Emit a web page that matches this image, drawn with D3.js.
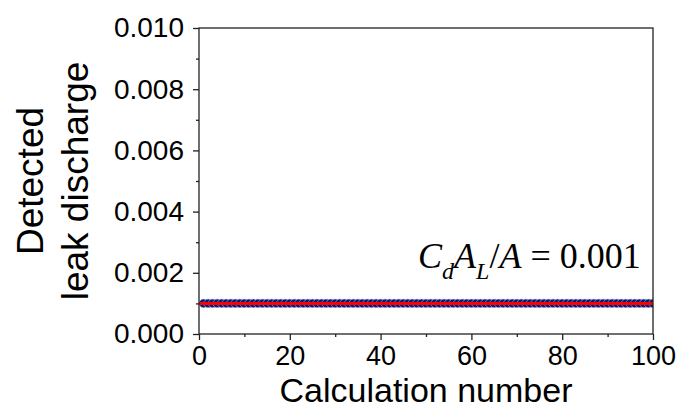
<!DOCTYPE html>
<html>
<head>
<meta charset="utf-8">
<script src="https://cdn.jsdelivr.net/npm/d3@7"></script>
<style>
  html, body { margin: 0; padding: 0; background: #fff; }
  svg { display: block; }
  .axis text { font-family: "Liberation Sans", Arial, sans-serif; fill: #000; }
  .axis path, .axis line { stroke: #222; stroke-width: 1.3; }
</style>
</head>
<body>
<svg id="chart" width="683" height="409"></svg>
<script>
// Calculation numbers 1..100
const calcNumbers = [
  1,2,3,4,5,6,7,8,9,10,11,12,13,14,15,16,17,18,19,20,
  21,22,23,24,25,26,27,28,29,30,31,32,33,34,35,36,37,38,39,40,
  41,42,43,44,45,46,47,48,49,50,51,52,53,54,55,56,57,58,59,60,
  61,62,63,64,65,66,67,68,69,70,71,72,73,74,75,76,77,78,79,80,
  81,82,83,84,85,86,87,88,89,90,91,92,93,94,95,96,97,98,99,100
];
// Detected leak discharge for each calculation
const detectedDischarge = [
  0.001,0.001,0.001,0.001,0.001,0.001,0.001,0.001,0.001,0.001,
  0.001,0.001,0.001,0.001,0.001,0.001,0.001,0.001,0.001,0.001,
  0.001,0.001,0.001,0.001,0.001,0.001,0.001,0.001,0.001,0.001,
  0.001,0.001,0.001,0.001,0.001,0.001,0.001,0.001,0.001,0.001,
  0.001,0.001,0.001,0.001,0.001,0.001,0.001,0.001,0.001,0.001,
  0.001,0.001,0.001,0.001,0.001,0.001,0.001,0.001,0.001,0.001,
  0.001,0.001,0.001,0.001,0.001,0.001,0.001,0.001,0.001,0.001,
  0.001,0.001,0.001,0.001,0.001,0.001,0.001,0.001,0.001,0.001,
  0.001,0.001,0.001,0.001,0.001,0.001,0.001,0.001,0.001,0.001,
  0.001,0.001,0.001,0.001,0.001,0.001,0.001,0.001,0.001,0.001
];
// Actual leak discharge (reference line)
const trueDischarge = 0.001;

const xTicks = [0, 20, 40, 60, 80, 100];
const xMinorTicks = [10, 30, 50, 70, 90];
const yTicks = [0, 0.002, 0.004, 0.006, 0.008, 0.010];
const yMinorTicks = [0.001, 0.003, 0.005, 0.007, 0.009];

const svg = d3.select("#chart");
const m = { left: 199, right: 653, top: 28, bottom: 334 };

const x = d3.scaleLinear().domain([0, 100]).range([m.left, m.right]);
const y = d3.scaleLinear().domain([0, 0.010]).range([m.bottom, m.top]);

svg.append("defs").append("clipPath").attr("id", "plotClip")
  .append("rect")
  .attr("x", m.left).attr("y", m.top)
  .attr("width", m.right - m.left).attr("height", m.bottom - m.top);

// data layer
const plot = svg.append("g").attr("clip-path", "url(#plotClip)");

plot.selectAll("circle.pt")
  .data(calcNumbers.map((c, i) => ({ c, v: detectedDischarge[i] })))
  .join("circle")
  .attr("class", "pt")
  .attr("cx", d => x(d.c))
  .attr("cy", d => y(d.v))
  .attr("r", 4.3)
  .attr("fill", "#0a1670")
  .attr("stroke", "#b9c0e0")
  .attr("stroke-width", 0.6);

plot.append("line")
  .attr("x1", x(0)).attr("x2", x(100))
  .attr("y1", y(trueDischarge)).attr("y2", y(trueDischarge))
  .attr("stroke", "#ff0000")
  .attr("stroke-width", 3);

// frame
svg.append("rect")
  .attr("x", m.left).attr("y", m.top)
  .attr("width", m.right - m.left).attr("height", m.bottom - m.top)
  .attr("fill", "none").attr("stroke", "#222").attr("stroke-width", 1.3);

// minor ticks
svg.append("g").attr("class", "axis")
  .attr("transform", `translate(0,${m.bottom})`)
  .call(d3.axisBottom(x).tickValues(xMinorTicks).tickSize(3).tickFormat(""))
  .call(g => g.select(".domain").remove());
svg.append("g").attr("class", "axis")
  .attr("transform", `translate(${m.left},0)`)
  .call(d3.axisLeft(y).tickValues(yMinorTicks).tickSize(3).tickFormat(""))
  .call(g => g.select(".domain").remove());

// major axes
const xAxis = svg.append("g").attr("class", "axis")
  .attr("transform", `translate(0,${m.bottom})`)
  .call(d3.axisBottom(x).tickValues(xTicks).tickSize(6).tickPadding(6).tickFormat(d3.format("d")));
xAxis.select(".domain").remove();
xAxis.selectAll("text").attr("font-size", 27);

const yAxis = svg.append("g").attr("class", "axis")
  .attr("transform", `translate(${m.left},0)`)
  .call(d3.axisLeft(y).tickValues(yTicks).tickSize(6).tickPadding(9).tickFormat(d3.format(".3f")));
yAxis.select(".domain").remove();
yAxis.selectAll("text").attr("font-size", 28);

// axis titles
svg.append("text")
  .attr("x", (m.left + m.right) / 2).attr("y", 401.5)
  .attr("text-anchor", "middle")
  .attr("font-family", "Liberation Sans, Arial, sans-serif")
  .attr("font-size", 34)
  .text("Calculation number");

svg.append("text")
  .attr("transform", `translate(43,${(m.top + m.bottom) / 2}) rotate(-90)`)
  .attr("text-anchor", "middle")
  .attr("font-family", "Liberation Sans, Arial, sans-serif")
  .attr("font-size", 37)
  .text("Detected");
svg.append("text")
  .attr("transform", `translate(88,${(m.top + m.bottom) / 2}) rotate(-90)`)
  .attr("text-anchor", "middle")
  .attr("font-family", "Liberation Sans, Arial, sans-serif")
  .attr("font-size", 37)
  .text("leak discharge");

// annotation: C_d A_L / A = 0.001
const ann = svg.append("text")
  .attr("x", 418).attr("y", 268)
  .attr("font-family", "Liberation Serif, Times New Roman, serif")
  .attr("font-size", 36);
ann.append("tspan").attr("font-style", "italic").text("C");
ann.append("tspan").attr("font-style", "italic").attr("font-size", 24).attr("dy", 11).text("d");
ann.append("tspan").attr("font-style", "italic").attr("dy", -11).text("A");
ann.append("tspan").attr("font-style", "italic").attr("font-size", 24).attr("dy", 11).text("L");
ann.append("tspan").attr("dy", -11).text("/");
ann.append("tspan").attr("font-style", "italic").text("A");
ann.append("tspan").text(" = " + d3.format(".3f")(trueDischarge));
</script>
</body>
</html>
